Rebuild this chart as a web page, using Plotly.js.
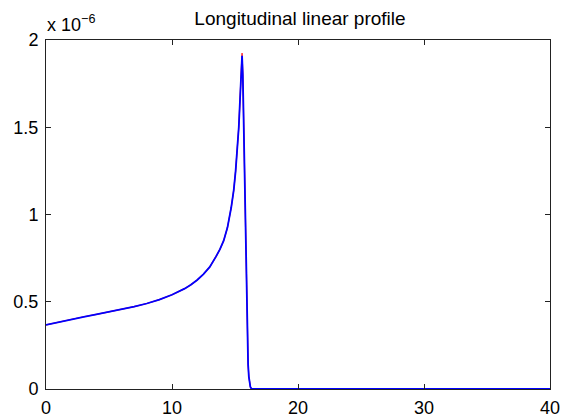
<!DOCTYPE html>
<html>
<head>
<meta charset="utf-8">
<script src="https://cdn.plot.ly/plotly-3.0.1.min.js"></script>
<style>html,body{margin:0;padding:0;background:#fff;}#chart{width:562px;height:420px;}</style>
</head>
<body>
<div id="chart"></div>
<script>
// x positions (same for both series)
const xs = [0, 1, 2, 3, 4, 5, 6, 7, 8, 9, 10, 10.5, 11, 11.5, 12, 12.5, 13, 13.5, 13.8, 14.1, 14.4, 14.7, 14.9, 15.05, 15.2, 15.3, 15.4, 15.48, 15.56, 15.62, 15.7, 15.78, 15.86, 15.92, 15.98, 16.04, 16.1, 16.16, 16.22, 16.3, 16.4, 17, 20, 25, 30, 35, 40];
// values in units of 1e-6
const redValues = [0.367, 0.384, 0.399, 0.414, 0.428, 0.442, 0.456, 0.472, 0.490, 0.512, 0.540, 0.556, 0.575, 0.598, 0.625, 0.658, 0.700, 0.760, 0.800, 0.850, 0.925, 1.040, 1.140, 1.250, 1.380, 1.500, 1.660, 1.800, 1.925, 1.800, 1.500, 1.200, 0.850, 0.550, 0.280, 0.140, 0.070, 0.035, 0.012, 0.002, 0, 0, 0, 0, 0, 0, 0];
const blueValues = [0.367, 0.384, 0.399, 0.414, 0.428, 0.442, 0.456, 0.472, 0.490, 0.512, 0.540, 0.556, 0.575, 0.598, 0.625, 0.658, 0.700, 0.760, 0.800, 0.850, 0.925, 1.040, 1.140, 1.250, 1.380, 1.500, 1.660, 1.800, 1.910, 1.800, 1.500, 1.200, 0.850, 0.550, 0.280, 0.140, 0.070, 0.035, 0.012, 0.002, 0, 0, 0, 0, 0, 0, 0];
const xTicks = [0, 10, 20, 30, 40];
const yTicks = [0, 0.5, 1, 1.5, 2];
const yTickText = ['0', '0.5', '1', '1.5', '2'];
const titleText = 'Longitudinal linear profile';
const exponentText = 'x 10<sup>\u22126</sup>';

const font = 'Liberation Sans, Arial, Helvetica, sans-serif';
const traces = [
  {x: xs, y: redValues, mode: 'lines', line: {color: '#ff0000', width: 1.2}, hoverinfo: 'skip'},
  {x: xs, y: blueValues, mode: 'lines', line: {color: '#0000ff', width: 1.8}, hoverinfo: 'skip'}
];
const axisCommon = {
  showline: true, mirror: 'ticks', linecolor: '#222', linewidth: 1,
  ticks: 'inside', ticklen: 5, tickcolor: '#222', tickwidth: 1,
  showgrid: false, zeroline: false,
  tickfont: {family: font, size: 18, color: '#000'}
};
const layout = {
  width: 562, height: 420,
  margin: {l: 46, r: 12, t: 40, b: 31, pad: 0},
  paper_bgcolor: '#fff', plot_bgcolor: '#fff',
  showlegend: false,
  title: {text: titleText, font: {family: font, size: 19, color: '#000'}, x: 300/562, xanchor: 'center', y: 1 - 18/420, yanchor: 'middle', yref: 'container'},
  xaxis: Object.assign({}, axisCommon, {range: [0, 40], tickvals: xTicks, ticktext: xTicks.map(String), ticklabelstandoff: 2}),
  yaxis: Object.assign({}, axisCommon, {range: [0, 2], tickvals: yTicks, ticktext: yTickText, ticklabelstandoff: 3}),
  annotations: [{
    text: exponentText, xref: 'paper', yref: 'paper', x: 0, y: 1, xanchor: 'left', yanchor: 'bottom',
    showarrow: false, font: {family: font, size: 18, color: '#000'}, xshift: -1, yshift: 3
  }]
};
Plotly.newPlot('chart', traces, layout, {staticPlot: true, displayModeBar: false});
</script>
</body>
</html>
